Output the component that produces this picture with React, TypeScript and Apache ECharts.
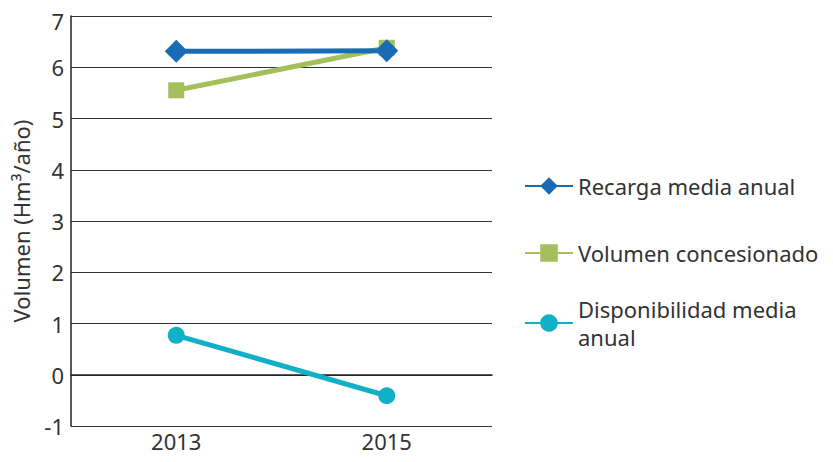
import React, { useEffect, useRef } from "react";
import * as echarts from "echarts";

const years = ["2013", "2015"];
const recarga = [6.31, 6.32];
const concesionado = [5.55, 6.38];
const disponibilidad = [0.77, -0.41];
const seriesNames = ["Recarga media anual", "Volumen concesionado", "Disponibilidad media anual"];
const yTicks = { min: -1, max: 7, interval: 1 };

const FONT = "Noto Sans";
const TXT = "#333333";

export default function App() {
  const ref = useRef<HTMLDivElement>(null);
  useEffect(() => {
    const chart = echarts.init(ref.current!, null, { renderer: "svg" });
    const legendBase = {
      orient: "vertical" as const,
      left: 524,
      padding: 0,
      itemWidth: 48,
      itemHeight: 22,
      itemGap: 4,
      textStyle: { fontFamily: FONT, fontSize: 22, color: TXT, lineHeight: 28 },
    };
    chart.setOption({
      animation: false,
      grid: { left: 71, right: 341, top: 13, bottom: 36 },
      legend: [
        { ...legendBase, top: 172, data: [seriesNames[0]] },
        { ...legendBase, top: 239, data: [seriesNames[1]] },
        {
          ...legendBase,
          top: 295,
          data: [seriesNames[2]],
          formatter: () => "Disponibilidad media\nanual",
        },
      ],
      xAxis: {
        type: "category",
        data: years,
        boundaryGap: true,
        axisLine: { lineStyle: { color: "#222", width: 1.5 } },
        axisTick: { show: false },
        axisLabel: { fontFamily: FONT, fontSize: 22, color: TXT, margin: 4 },
      },
      yAxis: {
        type: "value",
        min: yTicks.min,
        max: yTicks.max,
        interval: yTicks.interval,
        name: "Volumen (Hm³/año)",
        nameLocation: "middle",
        nameGap: 39,
        nameTextStyle: { fontFamily: FONT, fontSize: 22, color: TXT },
        axisLine: { show: true, lineStyle: { color: "#222", width: 1.5 } },
        axisTick: { show: false },
        axisLabel: {
          fontFamily: FONT,
          fontSize: 22,
          color: TXT,
          margin: 7,
          lineHeight: 22,
          formatter: (v: number) => (v === yTicks.max ? `{top|${v}}` : `${v}`),
          rich: {
            top: { fontFamily: FONT, fontSize: 22, color: TXT, lineHeight: 22, padding: [10, 0, 0, 0] },
          },
        },
        splitLine: { lineStyle: { color: "#333", width: 1.2 } },
      },
      series: [
        {
          name: seriesNames[1],
          type: "line",
          data: concesionado,
          symbol: "rect",
          symbolSize: 16,
          lineStyle: { width: 5, color: "#a4bf5b" },
          itemStyle: { color: "#a4bf5b" },
        },
        {
          name: seriesNames[2],
          type: "line",
          data: disponibilidad,
          symbol: "circle",
          symbolSize: 17,
          lineStyle: { width: 5, color: "#12b0c7" },
          itemStyle: { color: "#12b0c7" },
        },
        {
          name: seriesNames[0],
          type: "line",
          data: recarga,
          symbol: "diamond",
          symbolSize: 23,
          lineStyle: { width: 5, color: "#1a6bb6" },
          itemStyle: { color: "#1a6bb6" },
        },
      ],
    });
    return () => chart.dispose();
  }, []);
  return <div ref={ref} style={{ position: "absolute", left: 0, top: 0, width: 833, height: 462 }} />;
}
